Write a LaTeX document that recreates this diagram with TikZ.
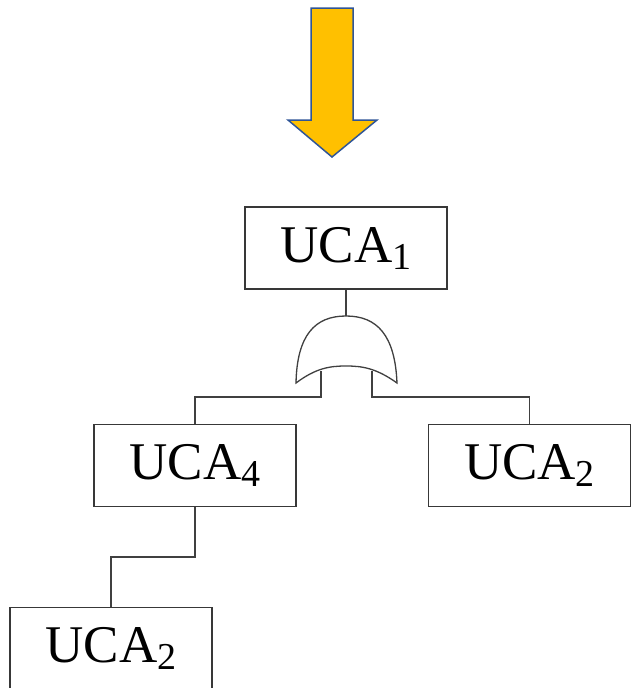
\documentclass[tikz,border=0pt]{standalone}
\usepackage{fontspec}
\setmainfont{Liberation Serif}
\newcommand{\uca}[1]{UCA\raisebox{-7pt}{\fontsize{38}{40}\selectfont #1}}
\begin{document}
\begin{tikzpicture}[x=1pt,y=-1pt,
  eventbox/.style={draw=black!78,line width=1.3pt,minimum width=202pt,minimum height=82pt,
    inner sep=0pt,font=\fontsize{53}{60}\selectfont},
  wire/.style={draw=black!75,line width=1.3pt},
  gatebody/.style={draw=black!75,line width=1.3pt,fill=white},
  bigarrow/.style={fill=arrowfill,draw=arrowedge,line width=1.5pt,line join=miter}]
\definecolor{arrowfill}{HTML}{FFC000}
\definecolor{arrowedge}{HTML}{2F5597}
\useasboundingbox (0,0) rectangle (631,688);
\clip (0,0) rectangle (631,688);

% input arrow
\draw[bigarrow] (311,8) -- (353,8) -- (353,120) -- (377,120) -- (332,157) -- (288,120) -- (311,120) -- cycle;

% events
\node[eventbox] (uca1) at (346,248) {\uca{1}};
\node[eventbox] (uca4) at (195,465.5) {\uca{4}};
\node[eventbox] (uca2r) at (529.5,465.5) {\uca{2}};
\node[eventbox] (uca2b) at (111,648.5) {\uca{2}};

% OR gate
\coordinate (gtop) at (346,316);
\coordinate (gin1) at (321,371);
\coordinate (gin2) at (372,371);
\coordinate (lv) at (0,397);
\coordinate (lv2) at (0,557);
\draw[gatebody] (296,383) .. controls (297,335) and (315,316) .. (gtop)
  .. controls (377,316) and (395,335) .. (397,383)
  .. controls (376,368) and (362,366) .. (346,366)
  .. controls (330,366) and (316,368) .. (296,383) -- cycle;

% connectors
\draw[wire] (uca1.south) -- (gtop);
\draw[wire] (gin1) -- (gin1 |- lv) -| (uca4.north);
\draw[wire] (gin2) -- (gin2 |- lv) -| (uca2r.north);
\draw[wire] (uca4.south) -- (uca4.south |- lv2) -| (uca2b.north);
\end{tikzpicture}
\end{document}
